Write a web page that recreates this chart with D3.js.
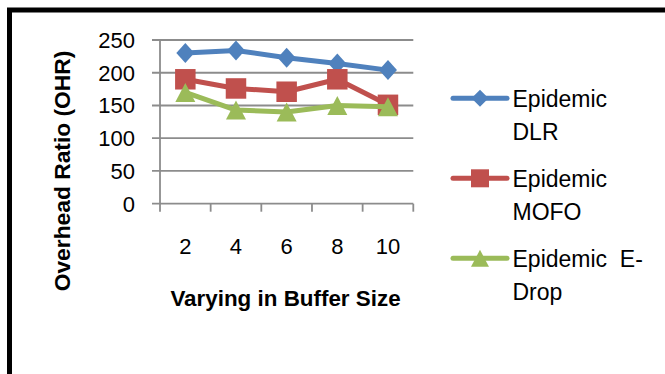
<!DOCTYPE html>
<html><head><meta charset="utf-8">
<script src="https://cdn.jsdelivr.net/npm/d3@7"></script>
<style>
html,body{margin:0;padding:0;background:#fff;}
svg{display:block;}
text{font-family:"Liberation Sans",Arial,sans-serif;fill:#000;}
</style></head>
<body>
<svg id="c" width="665" height="374"></svg>
<script>
const categories = ["2","4","6","8","10"];
const yTicks = [0,50,100,150,200,250];
const seriesNames = ["Epidemic DLR","Epidemic MOFO","Epidemic  E-Drop"];
const dlr  = [230,234,223,214,204];
const mofo = [190,176,171,190,151];
const edrop= [170,143,140,150,148];
const colors = ["#4F81BD","#C0504D","#9BBB59"];
const series = [dlr, mofo, edrop];

// marker path generators (w = width, h = height), centred at 0,0
function markerPath(kind, w, h){
  const p = d3.path();
  if(kind===0){ p.moveTo(0,-h/2); p.lineTo(w/2,0); p.lineTo(0,h/2); p.lineTo(-w/2,0); p.closePath(); }
  else if(kind===1){ p.rect(-w/2,-h/2,w,h); }
  else { p.moveTo(0,-h/2); p.lineTo(w/2,h/2); p.lineTo(-w/2,h/2); p.closePath(); }
  return p.toString();
}
const plotMarker = [[18,20],[20.5,20.5],[20,19]];
const legMarker  = [[17,17],[18,18],[18,17]];

const svg = d3.select("#c");
// outer border
svg.append("rect").attr("x",9.5).attr("y",10).attr("width",700).attr("height",400)
  .attr("fill","none").attr("stroke","#000").attr("stroke-width",5);

const x = d3.scaleBand().domain(categories).range([160,413.3]).padding(0);
const y = d3.scaleLinear().domain([0,250]).range([203.7,40]);

// gridlines
svg.append("g").selectAll("line").data(yTicks).join("line")
  .attr("x1",152).attr("x2",413.3).attr("y1",d=>y(d)).attr("y2",d=>y(d))
  .attr("stroke","#8c8c8c").attr("stroke-width",1.8);
// y axis line
svg.append("line").attr("x1",160).attr("x2",160).attr("y1",y(250)).attr("y2",y(0))
  .attr("stroke","#8c8c8c").attr("stroke-width",1.8);
// x tick marks at band edges
const edges = categories.map(c=>x(c)).concat([x.range()[1]]);
svg.append("g").selectAll("line").data(edges).join("line")
  .attr("x1",d=>d).attr("x2",d=>d).attr("y1",y(0)).attr("y2",y(0)+8)
  .attr("stroke","#8c8c8c").attr("stroke-width",1.8);

// y tick labels
svg.append("g").selectAll("text").data(yTicks).join("text")
  .attr("x",135).attr("y",d=>y(d)).attr("dy","0.36em").attr("text-anchor","end")
  .attr("font-size",22).text(d=>d);
// x tick labels
svg.append("g").selectAll("text").data(categories).join("text")
  .attr("x",d=>x(d)+x.bandwidth()/2).attr("y",254).attr("text-anchor","middle")
  .attr("font-size",22).text(d=>d);

// axis titles
svg.append("text").attr("x",285.5).attr("y",306).attr("text-anchor","middle")
  .attr("font-size",22.4).attr("font-weight","bold").text("Varying in Buffer Size");
svg.append("text").attr("transform","translate(70,171) rotate(-90)").attr("text-anchor","middle")
  .attr("font-size",22.8).attr("font-weight","bold").text("Overhead Ratio (OHR)");

series.forEach((vals,i)=>{
  const g = svg.append("g");
  g.append("path").datum(vals)
    .attr("d",d3.line().x((d,j)=>x(categories[j])+x.bandwidth()/2).y(d=>y(d)))
    .attr("fill","none").attr("stroke",colors[i]).attr("stroke-width",5).attr("stroke-linejoin","round");
  g.selectAll("path.m").data(vals).join("path").attr("class","m")
    .attr("transform",(d,j)=>`translate(${x(categories[j])+x.bandwidth()/2},${y(d)})`)
    .attr("d",markerPath(i,plotMarker[i][0],plotMarker[i][1])).attr("fill",colors[i]);
});

// legend
const legY = [98.3,178.3,258.3];
const legLines = [["Epidemic","DLR"],["Epidemic","MOFO"],["Epidemic  E-","Drop"]];
legY.forEach((ly,i)=>{
  svg.append("line").attr("x1",453).attr("x2",507).attr("y1",ly).attr("y2",ly)
    .attr("stroke",colors[i]).attr("stroke-width",5).attr("stroke-linecap","round");
  svg.append("path").attr("transform",`translate(480,${ly})`)
    .attr("d",markerPath(i,legMarker[i][0],legMarker[i][1])).attr("fill",colors[i]);
  const t = svg.append("text").attr("x",512.5).attr("y",ly).attr("font-size",23).style("white-space","pre");
  t.append("tspan").attr("x",512.5).attr("dy","0.36em").text(legLines[i][0]);
  t.append("tspan").attr("x",512.5).attr("dy","1.45em").text(legLines[i][1]);
});
</script>
</body></html>
